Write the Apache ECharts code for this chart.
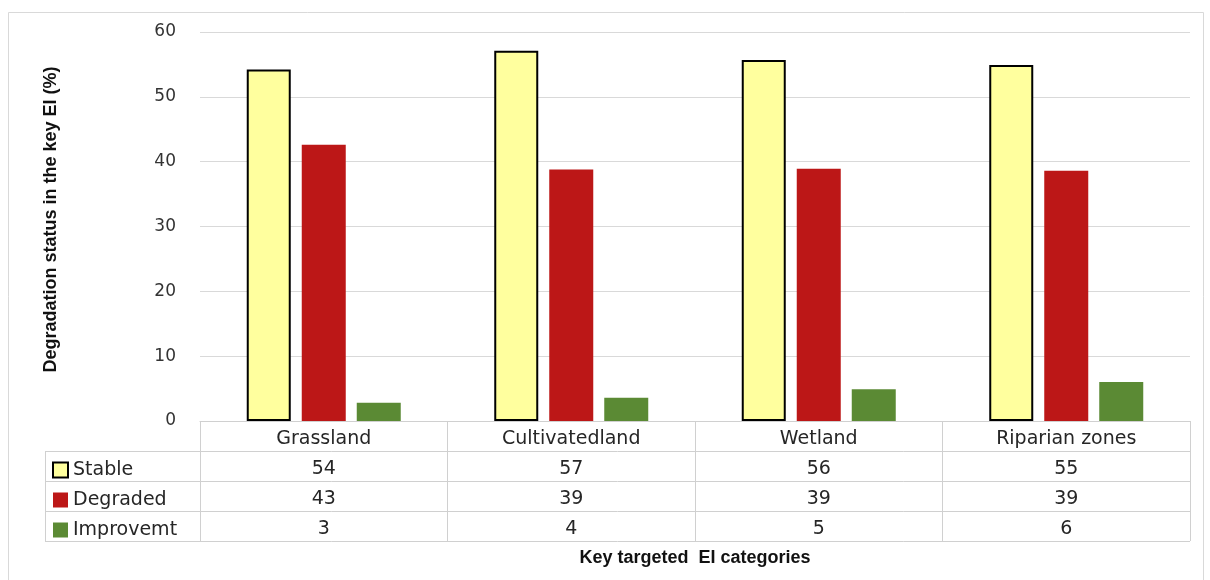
<!DOCTYPE html>
<html>
<head>
<meta charset="utf-8">
<script src="https://cdn.jsdelivr.net/npm/echarts@6/dist/echarts.min.js"></script>
<style>
html,body{margin:0;padding:0;background:#fff;}
#main{width:1210px;height:580px;}
</style>
</head>
<body>
<div id="main"></div>
<script>
// ---- data ----
const categories = ['Grassland', 'Cultivatedland', 'Wetland', 'Riparian zones'];
const seriesNames = ['Stable', 'Degraded', 'Improvemt'];
const stable = [54.2, 57.1, 55.7, 54.9];
const degraded = [42.6, 38.8, 38.9, 38.6];
const improvement = [2.8, 3.6, 4.9, 6.0];
const yTicks = [0, 10, 20, 30, 40, 50, 60];

const seriesValues = [stable, degraded, improvement];
const colors = ['#FFFF9E', '#BC1717', '#5B8A34'];
const FONT = 'DejaVu Sans';
const GRID = { left: 200, right: 20, top: 32, bottom: 159 };
const ROW = 30;
const chart = echarts.init(document.getElementById('main'), null, { renderer: 'canvas' });

const xAxes = [{
  type: 'category',
  data: categories,
  position: 'bottom',
  axisLine: { show: true, lineStyle: { color: '#d0d0d0', width: 1 } },
  axisTick: { show: true, length: ROW * 4, lineStyle: { color: '#d0d0d0', width: 1 } },
  axisLabel: { margin: 9, fontFamily: FONT, fontSize: 19, color: '#262626' },
  name: 'Key targeted  EI categories',
  nameLocation: 'middle',
  nameGap: 128,
  nameTextStyle: { fontFamily: 'Liberation Sans', fontWeight: 'bold', fontSize: 18, color: '#111' }
}];
seriesValues.forEach((vals, k) => {
  xAxes.push({
    type: 'category',
    data: categories,
    position: 'bottom',
    offset: ROW * (k + 1),
    axisLine: { show: false },
    axisTick: { show: false },
    axisLabel: {
      margin: 9, fontFamily: FONT, fontSize: 19, color: '#262626',
      formatter: (v, i) => String(Math.round(vals[i]))
    }
  });
});

const hLines = [];
for (let r = 1; r <= 4; r++) {
  const y = 421 + ROW * r + 0.5;
  hLines.push({ type: 'line', shape: { x1: 45, y1: y, x2: 1190, y2: y }, style: { stroke: '#d0d0d0', lineWidth: 1 }, silent: true });
}
hLines.push({ type: 'line', shape: { x1: 45.5, y1: 451, x2: 45.5, y2: 541 }, style: { stroke: '#d0d0d0', lineWidth: 1 }, silent: true });

chart.setOption({
  animation: false,
  backgroundColor: '#fff',
  grid: GRID,
  legend: {
    orient: 'vertical',
    left: 47,
    top: 455,
    itemWidth: 15,
    itemHeight: 15,
    itemGap: 10,
    icon: 'rect',
    textStyle: { fontFamily: FONT, fontSize: 19, color: '#262626', lineHeight: 20 },
    data: seriesNames
  },
  xAxis: xAxes,
  yAxis: {
    type: 'value',
    min: yTicks[0],
    max: yTicks[yTicks.length - 1],
    interval: 10,
    axisLine: { show: false },
    axisTick: { show: false },
    axisLabel: { margin: 24, fontFamily: FONT, fontSize: 17, color: '#333' },
    splitLine: { lineStyle: { color: '#d9d9d9', width: 1 } },
    name: 'Degradation status in the key EI (%)',
    nameLocation: 'middle',
    nameRotate: 90,
    nameGap: 140,
    nameTextStyle: { fontFamily: "'Liberation Sans Narrow', 'Liberation Sans'", fontWeight: 'bold', fontSize: 18, color: '#111', padding: [0, 0, 0, 14] }
  },
  series: seriesValues.map((vals, k) => ({
    name: seriesNames[k],
    type: 'bar',
    xAxisIndex: 0,
    data: vals,
    barWidth: 44,
    barGap: '25%',
    itemStyle: k === 0
      ? { color: colors[k], borderColor: '#000', borderWidth: 2 }
      : { color: colors[k] }
  })),
  graphic: [
    { type: 'rect', shape: { x: 8.5, y: 12.5, width: 1195, height: 580 }, style: { fill: 'none', stroke: '#d9d9d9', lineWidth: 1 }, silent: true, z: -1 }
  ].concat(hLines)
});
</script>
</body>
</html>
